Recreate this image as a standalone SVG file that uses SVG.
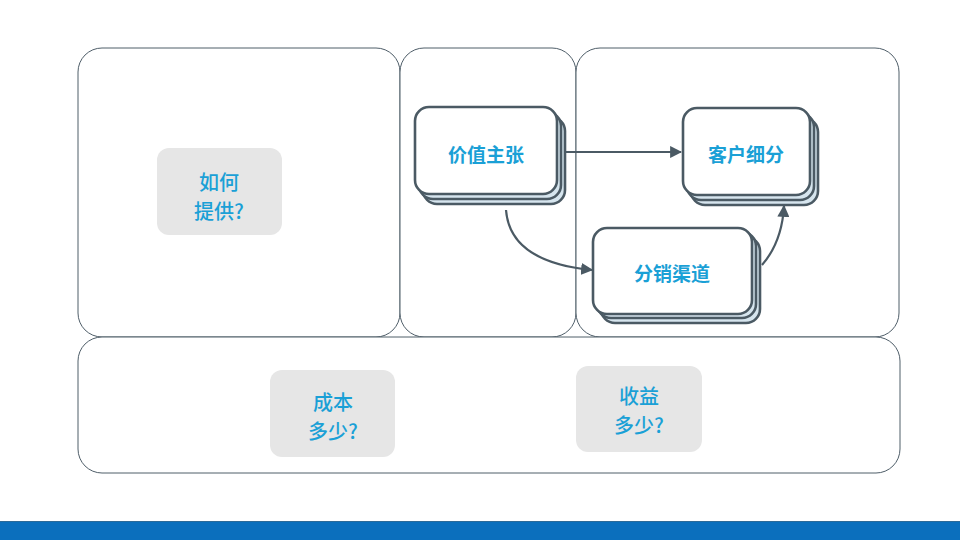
<svg xmlns="http://www.w3.org/2000/svg" width="960" height="540" viewBox="0 0 960 540">
<defs>
<style>
.panel{fill:#ffffff;stroke:#4f5e69;stroke-width:1}
.card{stroke:#4b5a64;stroke-width:2.6}
.back{fill:#d6e5ee}
.front{fill:#ffffff}
.grey{fill:#e6e6e6}
.t{font-family:"Noto Sans CJK SC",sans-serif;fill:#1aa0d6;text-anchor:middle;dominant-baseline:central}
.nt{font-weight:bold;font-size:19px}
.qt{font-size:20px;font-weight:500}
.conn{fill:none;stroke:#4b5a64;stroke-width:2.2}
</style>
<marker id="ah" viewBox="0 0 10 10" refX="9" refY="5" markerWidth="5.5" markerHeight="5.5" orient="auto" markerUnits="strokeWidth">
<path d="M0,0 L10,5 L0,10 z" fill="#4b5a64"/>
</marker>
</defs>
<rect width="960" height="540" fill="#ffffff"/>
<g id="panels">
<rect id="panel-left" class="panel" x="78" y="48" width="322" height="289" rx="24"/>
<rect id="panel-mid" class="panel" x="400" y="48" width="176" height="289" rx="24"/>
<rect id="panel-right" class="panel" x="576" y="48" width="323" height="289" rx="24"/>
<rect id="panel-bottom" class="panel" x="78" y="337" width="822" height="136" rx="24"/>
</g>
<rect id="footer-bar" x="0" y="521" width="960" height="19" fill="#0b6fbd"/>
<line x1="0" y1="521.5" x2="960" y2="521.5" stroke="#2d6a98" stroke-width="1"/>
<g id="connectors">
<path class="conn" d="M558,152 L681,152" marker-end="url(#ah)"/>
<path class="conn" d="M506,210 Q510,262 592,270" marker-end="url(#ah)"/>
<path class="conn" d="M762,265 Q782,242 784,206" marker-end="url(#ah)"/>
</g>
<g id="node-value">
<rect class="card back" x="423" y="117" width="142" height="87" rx="14"/>
<rect class="card back" x="419" y="112" width="142" height="87" rx="14"/>
<rect class="card front" x="415" y="107" width="142" height="87" rx="14"/>
<text class="t nt" x="486" y="153">价值主张</text>
</g>
<g id="node-customer">
<rect class="card back" x="691" y="118" width="127" height="87" rx="14"/>
<rect class="card back" x="687" y="113" width="127" height="87" rx="14"/>
<rect class="card front" x="683" y="108" width="127" height="87" rx="14"/>
<text class="t nt" x="746" y="153">客户细分</text>
</g>
<g id="node-channel">
<rect class="card back" x="601" y="237" width="159" height="86" rx="14"/>
<rect class="card back" x="597" y="232" width="159" height="86" rx="14"/>
<rect class="card front" x="593" y="228" width="159" height="86" rx="14"/>
<text class="t nt" x="672" y="272">分销渠道</text>
</g>
<g id="node-how">
<rect class="grey" x="157" y="148" width="125" height="87" rx="12"/>
<text class="t qt" x="219" y="181">如何</text>
<text class="t qt" x="219" y="210">提供?</text>
</g>
<g id="node-cost">
<rect class="grey" x="270" y="370" width="125" height="87" rx="12"/>
<text class="t qt" x="333" y="401">成本</text>
<text class="t qt" x="333" y="430">多少?</text>
</g>
<g id="node-revenue">
<rect class="grey" x="576" y="366" width="126" height="86" rx="12"/>
<text class="t qt" x="639" y="395">收益</text>
<text class="t qt" x="639" y="424">多少?</text>
</g>
</svg>
